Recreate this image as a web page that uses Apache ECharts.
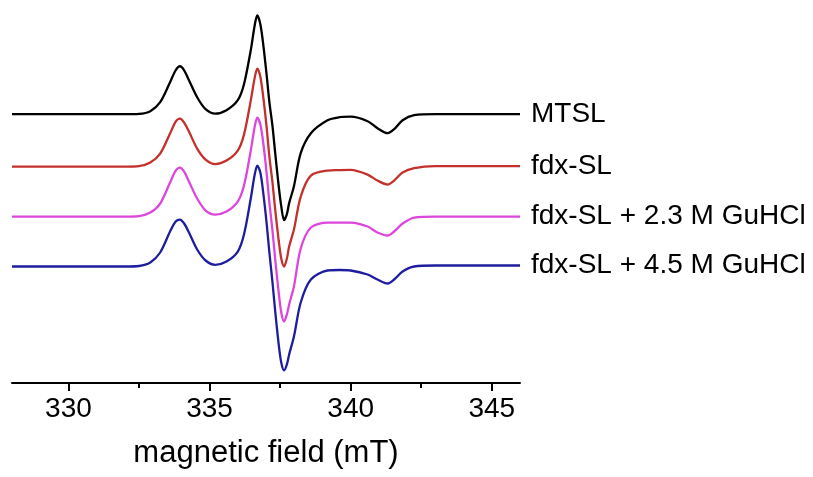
<!DOCTYPE html>
<html>
<head>
<meta charset="utf-8">
<script src="https://cdn.jsdelivr.net/npm/echarts@6/dist/echarts.min.js"></script>
<style>
  html, body { margin: 0; padding: 0; background: #fff; }
  #chart { width: 813px; height: 477px; }
</style>
</head>
<body>
<div id="chart"></div>
<script>
// magnetic field (mT), shared by all spectra
var field = [328.0, 330.0, 332.0, 332.5, 332.9, 333.25, 333.6, 333.8, 333.95, 334.1,
  334.27, 334.56, 334.86, 335.2, 335.6, 336.0, 336.22, 336.46, 336.6, 336.69,
  336.8, 336.91, 337.02, 337.12, 337.23, 337.33, 337.45, 337.54, 337.64, 337.74,
  337.82, 337.99, 338.23, 338.59, 339.18, 339.6, 340.0, 340.6, 340.95, 341.31,
  341.54, 341.84, 342.25, 343.0, 344.5, 346.0];

// EPR signal (a.u.)
var mtsl = [0, 0, 0, 0.3, 3, 12, 32, 44, 48, 44,
  34, 17, 5, 0.5, 4, 14, 30, 64, 89, 99,
  90, 68, 40, 12, -12, -40, -72, -92, -106, -100,
  -89, -72, -39, -19, -6, -3, -2.5, -7, -14, -19,
  -15, -6, -1, 0, 0, 0];
var fdxSL = [0, 0, 0, 0.5, 4, 13, 33, 45, 48, 44,
  35, 18, 7, 2.5, 6, 16, 32, 66, 89, 98,
  90, 68, 40, 10, -16, -44, -74, -92, -100, -92,
  -80, -63, -30, -9, -4, -3.5, -3.3, -8, -14, -18,
  -14, -6, -1.5, 0.5, 0.5, 0.5];
var fdxSL23 = [0, 0, 0, 0.5, 4, 13, 34, 46, 49, 45,
  35, 18, 6, 2, 5, 15, 31, 66, 90, 99,
  92, 72, 44, 14, -14, -44, -76, -96, -105, -98,
  -88, -70, -32, -11, -6, -6, -6, -10, -16, -19,
  -15, -7, -1, 0, 0, 0];
var fdxSL45 = [0, 0, 0, 0.5, 4, 14, 35, 45, 47, 43,
  34, 17, 6, 1.7, 5, 15, 32, 68, 92, 101,
  94, 72, 44, 14, -16, -46, -78, -96, -104, -98,
  -88, -70, -36, -13, -4, -3.5, -4, -8, -13, -17,
  -13, -5, 0, 1, 1, 1];

var names = ['MTSL', 'fdx-SL', 'fdx-SL + 2.3 M GuHCl', 'fdx-SL + 4.5 M GuHCl'];
var spectra = [mtsl, fdxSL, fdxSL23, fdxSL45];
var offsets = [0, -52.4, -102.4, -152.4];   // vertical stacking of the spectra
var colors = ['#000000', '#c4302b', '#dc46dc', '#1d1d9e'];

var majorTicks = [330, 335, 340, 345];
var minorTicks = [332.5, 337.5, 342.5];

var myChart = echarts.init(document.getElementById('chart'));

var series = [];
for (var s = 0; s < spectra.length; s++) {
  var pts = [];
  for (var i = 0; i < field.length; i++) {
    pts.push([field[i], spectra[s][i] + offsets[s]]);
  }
  series.push({
    name: names[s],
    type: 'line',
    data: pts,
    showSymbol: false,
    symbol: 'none',
    smooth: 0.3,
    lineStyle: { color: colors[s], width: 2.3 },
    itemStyle: { color: colors[s] },
    endLabel: {
      show: true,
      formatter: '{a}',
      distance: 11,
      color: '#000',
      fontFamily: 'Liberation Sans',
      fontSize: 28
    }
  });
}

var option = {
  animation: false,
  backgroundColor: '#fff',
  grid: { left: 12, right: 293, top: 10, bottom: 94 },
  xAxis: [
    {
      type: 'value',
      min: 328,
      max: 346,
      name: 'magnetic field (mT)',
      nameLocation: 'middle',
      nameGap: 55,
      nameTextStyle: { color: '#000', fontFamily: 'Liberation Sans', fontSize: 31 },
      splitLine: { show: false },
      axisLine: { onZero: false, lineStyle: { color: '#000', width: 2 } },
      axisTick: { customValues: majorTicks, length: 8, lineStyle: { color: '#000', width: 2 } },
      axisLabel: {
        customValues: majorTicks,
        margin: 12,
        color: '#000',
        fontFamily: 'Liberation Sans',
        fontSize: 28
      }
    },
    {
      type: 'value',
      min: 328,
      max: 346,
      position: 'bottom',
      splitLine: { show: false },
      axisLine: { show: false, onZero: false },
      axisTick: { customValues: minorTicks, length: 5, lineStyle: { color: '#000', width: 2 } },
      axisLabel: { show: false }
    }
  ],
  yAxis: {
    type: 'value',
    show: false,
    min: -269,
    max: 104.3
  },
  series: series
};

myChart.setOption(option);
</script>
</body>
</html>
